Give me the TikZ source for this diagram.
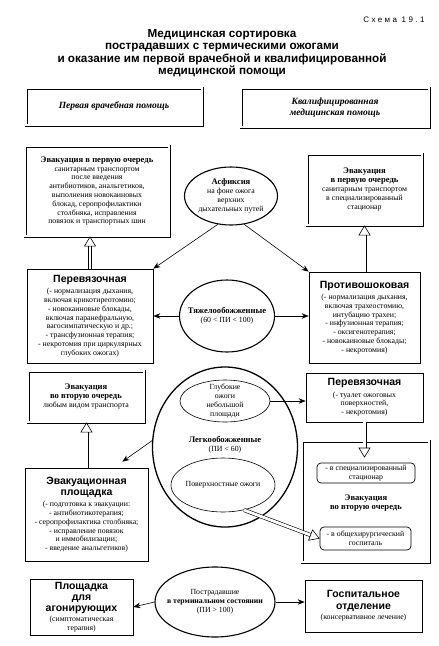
\documentclass[tikz,border=0pt]{standalone}
\usepackage{fontspec}
\setmainfont{Liberation Serif}
\setsansfont{Liberation Sans}
\usepackage{tikz}
\usetikzlibrary{arrows.meta,shapes.geometric}

\newcommand{\bodyfont}{\fontsize{7.8}{8.8}\selectfont}
\newcommand{\evtitle}[1]{{\bfseries\fontsize{8.6}{10}\selectfont #1}}
\newcommand{\sanshead}[1]{{\sffamily\bfseries\fontsize{10.5}{11.5}\selectfont #1}}

\begin{document}
\begin{tikzpicture}[
  x=1pt,
  y=-1pt,
  box/.style={draw, line width=0.7pt, inner sep=1.5pt, align=center, font=\bodyfont},
  dbox/.style={box, double, double distance=1.6pt},
  oval/.style={draw, ellipse, line width=1.1pt, inner sep=0pt},
  thinoval/.style={oval, line width=0.6pt},
  pill/.style={box, rounded corners=4pt, inner sep=1pt},
  txt/.style={align=center, inner sep=0pt, font=\bodyfont},
  arr/.style={-{Stealth[length=7pt,width=5.5pt]}, line width=0.6pt},
  hollow/.style={double, double distance=2.8pt, line width=0.6pt, -{Triangle[open,length=10pt,width=12pt]}}
]
\useasboundingbox (0,0) rectangle (439,646);

% title
\node[anchor=east, font={\sffamily\fontsize{8}{9}\selectfont\addfontfeatures{LetterSpace=30}}] (schema) at (428,20) {Схема 19.1};
\node[align=center, font={\sffamily\bfseries\fontsize{11.7}{12.3}\selectfont}] (title) at (222,53)
  {Медицинская сортировка\\пострадавших с термическими ожогами\\и оказание им первой врачебной и квалифицированной\\медицинской помощи};

% headers
\node[dbox, font={\bfseries\itshape\fontsize{9.5}{10.5}\selectfont}, minimum width=176, minimum height=37] (helpL) at (114,106.5) {Первая врачебная помощь};
\node[dbox, font={\bfseries\itshape\fontsize{9.5}{10.5}\selectfont}, minimum width=188, minimum height=39] (helpR) at (335,107.5) {Квалифицированная\\медицинская помощь};

% first evacuation
\node[dbox, minimum width=144, minimum height=90] (evacL) at (97,191)
  {\evtitle{Эвакуация в первую очередь}\\санитарным транспортом\\после введения\\антибиотиков, анальгетиков,\\выполнения новокаиновых\\блокад, серопрофилактики\\столбняка, исправления\\повязок и транспортных шин};
\node[dbox, minimum width=115, minimum height=71] (evacR) at (364.5,189.5)
  {\evtitle{Эвакуация}\\\evtitle{в первую очередь}\\санитарным транспортом\\в специализированный\\стационар};

% asphyxia
\node[oval, minimum width=93, minimum height=58] (asph) at (231,196) {};
\node[txt] (asphT) at (asph) {\evtitle{Асфиксия}\\на фоне ожога\\верхних\\дыхательных путей};

% severe burns
\node[box, minimum width=126, minimum height=94] (perevL) at (90,316)
  {\sanshead{Перевязочная}\\[2.5pt](- нормализация дыхания,\\включая крикотиреотомию;\\- новокаиновые блокады,\\включая паранефральную,\\вагосимпатическую и др.;\\- трансфузионная терапия;\\- некротомия при циркулярных\\глубоких ожогах)};
\node[oval, minimum width=95, minimum height=72] (tyazh) at (227,316) {};
\node[txt] (tyazhT) at (tyazh) {\evtitle{Тяжелообожженные}\\(60 < ПИ < 100)};
\node[box, minimum width=111, minimum height=91] (protiv) at (364.5,317.5)
  {\sanshead{Противошоковая}\\[2.5pt](- нормализация дыхания,\\включая трахеостомию,\\интубацию трахеи;\\- инфузионная терапия;\\- оксигенотерапия;\\- новокаиновые блокады;\\- некротомия)};

% light burns
\node[dbox, minimum width=116, minimum height=51] (evac2L) at (86,396.5)
  {\evtitle{Эвакуация}\\\evtitle{во вторую очередь}\\любым видом транспорта};
\node[box, minimum width=117, minimum height=49] (perevR) at (364.5,397.5)
  {\sanshead{Перевязочная}\\[2.5pt](- туалет ожоговых\\поверхностей,\\- некротомия)};
\node[oval, line width=1.3pt, minimum width=145, minimum height=160] (legko) at (225,447) {};
\node[thinoval, minimum width=90, minimum height=42] (deep) at (225,401) {};
\node[txt] (deepT) at (deep) {Глубокие\\ожоги\\небольшой\\площади};
\node[txt] (legkoT) at (225,445) {\evtitle{Легкообожженные}\\(ПИ < 60)};
\node[thinoval, minimum width=104, minimum height=54] (surf) at (223,485) {};
\node[txt] (surfT) at (surf) {Поверхностные ожоги};
\node[box, minimum width=123, minimum height=93] (platf) at (86.5,514.5)
  {\sanshead{Эвакуационная}\\[2.5pt]\sanshead{площадка}\\[2.5pt](- подготовка к эвакуации:\\- антибиотикотерапия;\\- серопрофилактика столбняка;\\- исправление повязок\\и иммобилизации;\\- введение анальгетиков)};
\node[dbox, minimum width=127, minimum height=121] (evac2R) at (365.5,501.5) {};
\node[pill, minimum width=98, minimum height=20] (spec) at (366,473) {- в специализированный\\стационар};
\node[txt] (evac2RT) at (366,503) {\evtitle{Эвакуация}\\\evtitle{во вторую очередь}};
\node[pill, minimum width=91, minimum height=23] (genh) at (365.5,538.5) {- в общехирургический\\госпиталь};

% terminal state
\node[box, minimum width=103, minimum height=56] (agon) at (81.5,607)
  {\sanshead{Площадка}\\[2pt]\sanshead{для}\\[2pt]\sanshead{агонирующих}\\[1.5pt](симптоматическая\\терапия)};
\node[oval, minimum width=120, minimum height=70] (term) at (215,602) {};
\node[txt] (termT) at (term) {Пострадавшие\\\textbf{в терминальном состоянии}\\(ПИ > 100)};
\node[box, minimum width=117, minimum height=52] (hosp) at (363.5,606)
  {\sanshead{Госпитальное}\\[2.5pt]\sanshead{отделение}\\[2pt](консервативное лечение)};

% connectors
\draw[arr] (asph.-115) -- (perevL.north east);
\draw[arr] (asph.-65) -- (protiv.north west);
\draw[arr] (tyazh.west) -- (perevL.east);
\draw[arr] (tyazh.east) -- (tyazh.east -| protiv.west);
\draw[hollow] (perevL.north) -- (perevL.north |- evacL.south);
\draw[hollow] (protiv.north) -- (protiv.north |- evacR.south);
\draw[hollow] (platf.north) -- (platf.north |- evac2L.south);
\draw[arr] (legko.175) -- ([xshift=-26pt,yshift=6pt]platf.north east);
\draw[arr] (deep.east) -- (deep.east -| perevR.west);
\draw[hollow] (perevR.south) -- ([yshift=5pt]perevR.south |- spec.north);
\draw[hollow] (surf.-50) -- (genh.west);
\draw[arr] (term.west) -- (agon.east);
\draw[arr] (term.east) -- (term.east -| hosp.west);
\end{tikzpicture}
\end{document}
